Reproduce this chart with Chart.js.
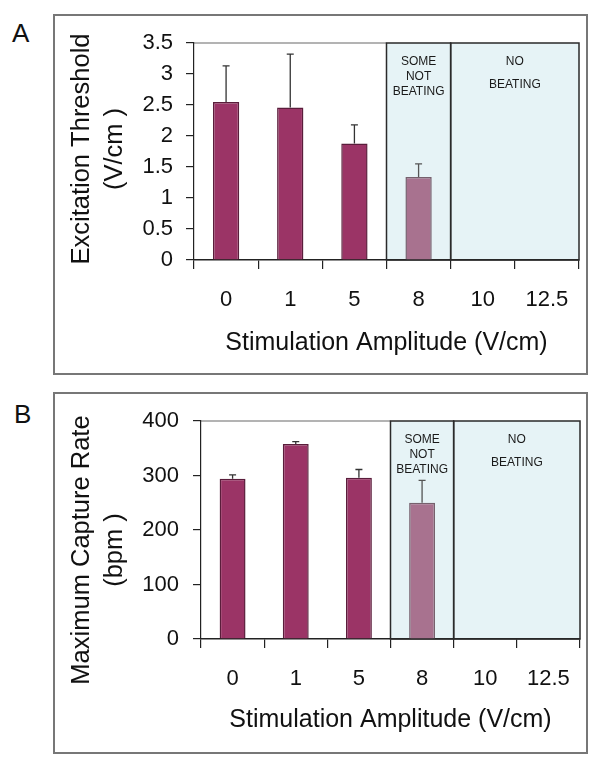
<!DOCTYPE html>
<html>
<head>
<meta charset="utf-8">
<script src="https://cdn.jsdelivr.net/npm/chart.js@4"></script>
<style>
  html, body { margin:0; padding:0; background:#fff; }
  body { width:601px; height:767px; position:relative; overflow:hidden; font-family:"Liberation Sans", Arial, sans-serif; }
  .box { position:absolute; box-sizing:border-box; border:2px solid #777; }
  .letter { position:absolute; font-size:26px; line-height:26px; color:#111; }
  canvas { position:absolute; left:0; }
</style>
</head>
<body>
<div class="box" style="left:53px; top:14px; width:535px; height:361px;"></div>
<div class="box" style="left:53px; top:392px; width:535px; height:362px;"></div>
<div class="letter" style="left:12px; top:20px;">A</div>
<div class="letter" style="left:14px; top:401px;">B</div>
<div style="position:absolute;left:0;top:0;width:601px;height:380px;"><canvas id="cA"></canvas></div>
<div style="position:absolute;left:0;top:379px;width:601px;height:378px;"><canvas id="cB"></canvas></div>
<script>
// ---- data ----
const categories = ['0', '1', '5', '8', '10', '12.5'];
const thresholdMean = [2.55, 2.46, 1.88, 1.34, null, null];
const thresholdErr  = [0.58, 0.86, 0.30, 0.21, null, null];
const captureMean   = [294, 358, 296, 250, null, null];
const captureErr    = [7, 4, 15, 41, null, null];
const thresholdAxis = { min: 0, max: 3.5, step: 0.5 };
const captureAxis   = { min: 0, max: 400, step: 100 };
const regionSomeLabel = ['SOME', 'NOT', 'BEATING'];
const regionNoneLabel = ['NO', 'BEATING'];
const regionSomeIdx = [3, 3];
const regionNoneIdx = [4, 5];
const xTitle = 'Stimulation Amplitude (V/cm)';
const yTitleA = ['Excitation Threshold', '(V/cm )'];
const yTitleB = ['Maximum Capture Rate', '(bpm )'];

const FONT = '"Liberation Sans", Arial, sans-serif';
const barFill   = ['#9b3466', '#9b3466', '#9b3466', '#a8728f', '#9b3466', '#9b3466'];
const barBorder = ['#5a1d3b', '#5a1d3b', '#5a1d3b', '#76606d', '#5a1d3b', '#5a1d3b'];

const overlayPlugin = {
  id: 'overlay',
  beforeDraw(chart, args, o) {
    const { ctx, chartArea: { top, bottom, left }, scales: { x } } = chart;
    const half = (x.right - x.left) / categories.length / 2;
    ctx.save();
    ctx.fillStyle = '#e6f3f6';
    o.regions.forEach(r => {
      const x0 = x.getPixelForTick(r.idx[0]) - half;
      const x1 = x.getPixelForTick(r.idx[1]) + half;
      ctx.fillRect(x0, top, x1 - x0, bottom - top);
    });
    const firstX = x.getPixelForTick(o.regions[0].idx[0]) - half;
    ctx.strokeStyle = '#9a9a9a';
    ctx.lineWidth = 1.5;
    ctx.beginPath();
    ctx.moveTo(left, top);
    ctx.lineTo(firstX, top);
    ctx.stroke();
    ctx.restore();
  },
  beforeDatasetsDraw(chart, args, o) {
    const { ctx, chartArea: { top, bottom }, scales: { x } } = chart;
    const half = (x.right - x.left) / categories.length / 2;
    ctx.save();
    ctx.strokeStyle = '#2a2a2a';
    ctx.lineWidth = 1.5;
    o.regions.forEach(r => {
      const x0 = x.getPixelForTick(r.idx[0]) - half;
      const x1 = x.getPixelForTick(r.idx[1]) + half;
      ctx.strokeRect(x0, top, x1 - x0, bottom - top);
    });
    ctx.restore();
  },
  afterDatasetsDraw(chart, args, o) {
    const { ctx, chartArea: { top, bottom }, scales: { x, y } } = chart;
    const half = (x.right - x.left) / categories.length / 2;
    const meta = chart.getDatasetMeta(0);
    const ds = chart.data.datasets[0];
    ctx.save();
    ds.data.forEach((v, i) => {
      if (v == null || o.err[i] == null) return;
      const bx = meta.data[i].x;
      const y0 = y.getPixelForValue(v);
      const y1 = y.getPixelForValue(v + o.err[i]);
      ctx.strokeStyle = i === 3 ? '#555' : '#333';
      ctx.lineWidth = 1.3;
      ctx.beginPath();
      ctx.moveTo(bx, y0);
      ctx.lineTo(bx, y1);
      ctx.moveTo(bx - 3.5, y1);
      ctx.lineTo(bx + 3.5, y1);
      ctx.stroke();
    });
    ctx.fillStyle = '#1a1a1a';
    ctx.font = '12px ' + FONT;
    ctx.textAlign = 'center';
    ctx.textBaseline = 'middle';
    o.regions.forEach(r => {
      const x0 = x.getPixelForTick(r.idx[0]) - half;
      const x1 = x.getPixelForTick(r.idx[1]) + half;
      const cx = (x0 + x1) / 2;
      r.lines.forEach((t, k) => ctx.fillText(t, cx, top + r.dy[k]));
    });
    ctx.font = '25.5px ' + FONT;
    ctx.fillStyle = '#111';
    const cy = (top + bottom) / 2 + o.yTitle.dy;
    o.yTitle.lines.forEach((t, k) => {
      ctx.save();
      ctx.translate(o.yTitle.xs[k], cy);
      ctx.rotate(-Math.PI / 2);
      ctx.fillText(t, 0, 0);
      ctx.restore();
    });
    ctx.restore();
  }
};

function makeChart(id, mean, err, axis, geo, yTitle) {
  return new Chart(document.getElementById(id), {
    type: 'bar',
    data: {
      labels: categories,
      datasets: [{
        data: mean,
        backgroundColor: barFill,
        borderColor: barBorder,
        borderWidth: 1.5,
        categoryPercentage: 1,
        barPercentage: 0.41
      }]
    },
    options: {
      responsive: true,
      maintainAspectRatio: false,
      animation: false,
      events: [],
      layout: { padding: { left: 0, right: geo.right, top: geo.top, bottom: 0 } },
      plugins: {
        legend: { display: false },
        tooltip: { enabled: false },
        overlay: {
          err: err,
          yTitle: yTitle,
          regions: [
            { idx: regionSomeIdx, lines: regionSomeLabel, dy: [19, 34, 49] },
            { idx: regionNoneIdx, lines: regionNoneLabel, dy: [19, 42] }
          ]
        }
      },
      scales: {
        x: {
          afterFit(s) { s.height = geo.xh; },
          grid: { display: true, drawOnChartArea: false, tickLength: 9, color: '#222', offset: true, lineWidth: 1.2 },
          border: { display: true, color: '#222', width: 1.5 },
          ticks: { font: { family: FONT, size: 22 }, color: '#111', padding: 18, maxRotation: 0, autoSkip: false },
          title: { display: true, text: xTitle, color: '#111', font: { family: FONT, size: 25 }, padding: { top: 0, bottom: 22 } }
        },
        y: {
          min: axis.min, max: axis.max,
          afterFit(s) { s.width = geo.left; },
          grid: { display: true, drawOnChartArea: false, tickLength: 8, color: '#222', lineWidth: 1.2 },
          border: { display: true, color: '#222', width: 1.2 },
          ticks: { stepSize: axis.step, font: { family: FONT, size: 22 }, color: '#111', padding: geo.tp,
                   callback: v => String(v) }
        }
      }
    },
    plugins: [overlayPlugin]
  });
}

makeChart('cA', thresholdMean, thresholdErr, thresholdAxis,
  { left: 194, right: 22, top: 43, xh: 120, tp: 13 },
  { lines: yTitleA, xs: [82, 115], dy: -2.5 });
makeChart('cB', captureMean, captureErr, captureAxis,
  { left: 201, right: 21, top: 42, xh: 118, tp: 14 },
  { lines: yTitleB, xs: [82, 115], dy: 20 });
</script>
</body>
</html>
